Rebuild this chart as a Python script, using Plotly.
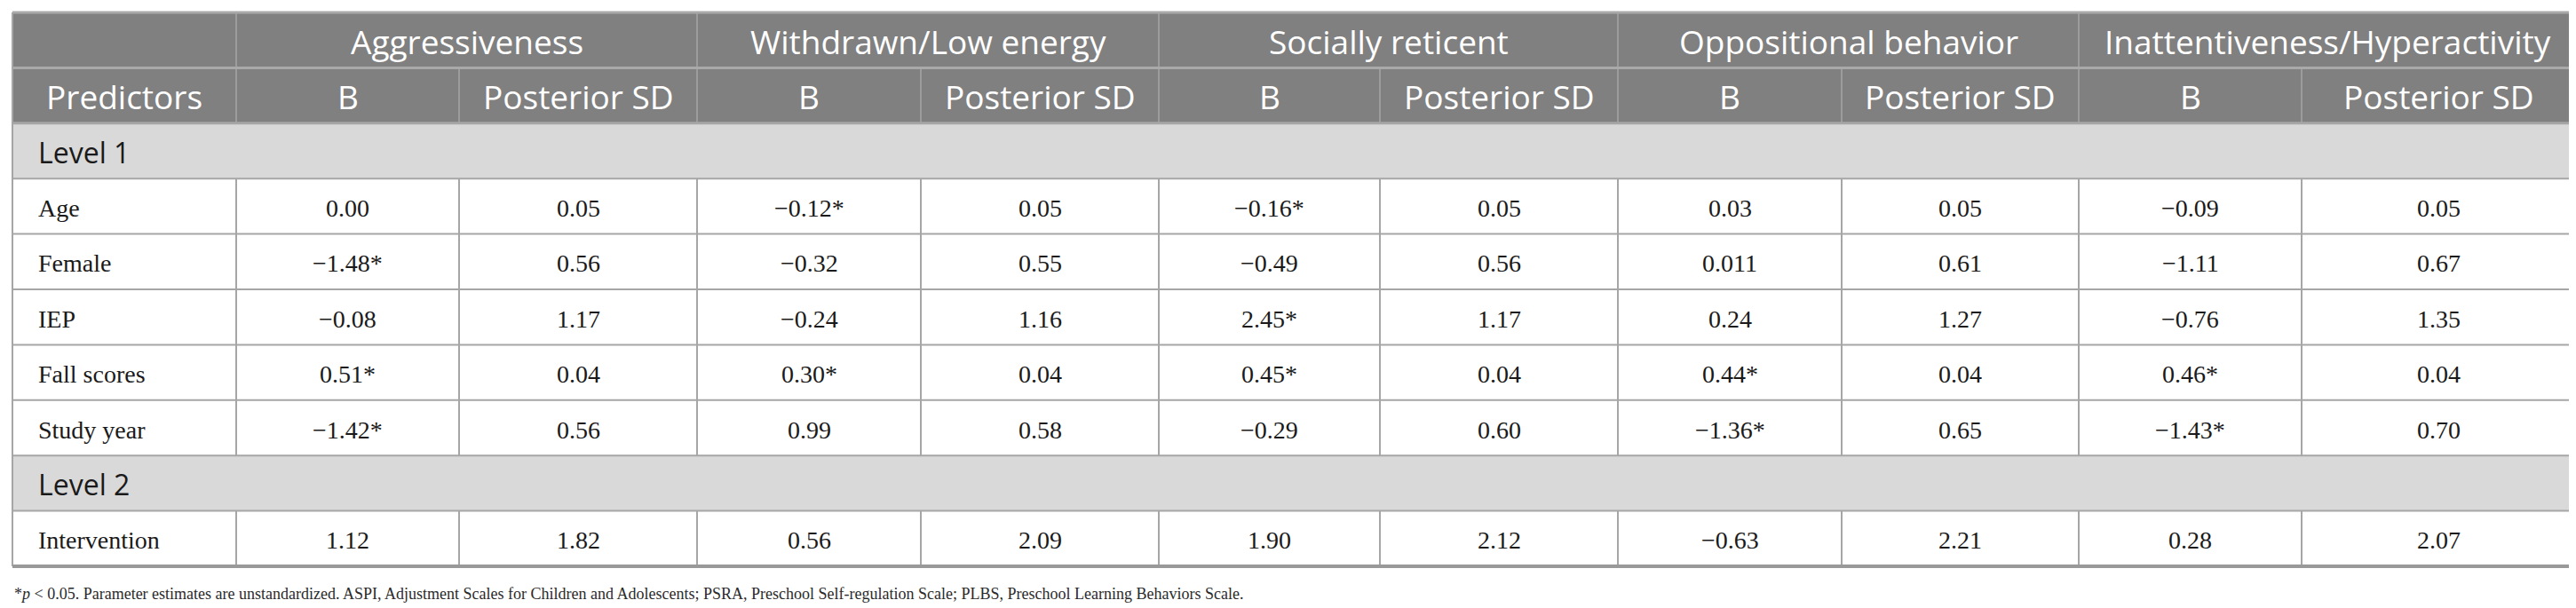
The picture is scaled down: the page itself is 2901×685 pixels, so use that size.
import plotly.graph_objects as go

# table content
groups = ['Aggressiveness', 'Withdrawn/Low energy', 'Socially reticent',
          'Oppositional behavior', 'Inattentiveness/Hyperactivity']
subheads = ['B', 'Posterior SD']
level1_predictors = ['Age', 'Female', 'IEP', 'Fall scores', 'Study year']
level2_predictors = ['Intervention']

aggr_b = ['0.00', '−1.48*', '−0.08', '0.51*', '−1.42*', '1.12']
aggr_sd = ['0.05', '0.56', '1.17', '0.04', '0.56', '1.82']
withdrawn_b = ['−0.12*', '−0.32', '−0.24', '0.30*', '0.99', '0.56']
withdrawn_sd = ['0.05', '0.55', '1.16', '0.04', '0.58', '2.09']
reticent_b = ['−0.16*', '−0.49', '2.45*', '0.45*', '−0.29', '1.90']
reticent_sd = ['0.05', '0.56', '1.17', '0.04', '0.60', '2.12']
opp_b = ['0.03', '0.011', '0.24', '0.44*', '−1.36*', '−0.63']
opp_sd = ['0.05', '0.61', '1.27', '0.04', '0.65', '2.21']
inatt_b = ['−0.09', '−1.11', '−0.76', '0.46*', '−1.43*', '0.28']
inatt_sd = ['0.05', '0.67', '1.35', '0.04', '0.70', '2.07']

footnote = ('*<i>p</i> &lt; 0.05. Parameter estimates are unstandardized. ASPI, Adjustment Scales for '
            'Children and Adolescents; PSRA, Preschool Self-regulation Scale; PLBS, Preschool '
            'Learning Behaviors Scale.')

# layout geometry (pixel space of the page)
W, H = 2901, 685
col_edges = [6, 258, 509, 777, 1029, 1297, 1546, 1814, 2066, 2333, 2584, 2893]
row_h = 62.4
top = 6

HEAD_BG = '#808080'
LEVEL_BG = '#d9d9d9'
LINE = '#a6a6a6'
HEAD_LINE = '#9c9c9c'
SANS = 'Open Sans'
SERIF = 'Liberation Serif'

value_cols = [aggr_b, aggr_sd, withdrawn_b, withdrawn_sd, reticent_b, reticent_sd,
              opp_b, opp_sd, inatt_b, inatt_sd]

# row list: (kind, label, data index)
rows = [('head1', None, None), ('head2', None, None), ('level', 'Level 1', None)]
for i, p in enumerate(level1_predictors):
    rows.append(('data', p, i))
rows.append(('level', 'Level 2', None))
for i, p in enumerate(level2_predictors):
    rows.append(('data', p, len(level1_predictors) + i))

row_y = [top + row_h * i for i in range(len(rows) + 1)]
x0, x1 = col_edges[0], col_edges[-1]

shapes = []
annotations = []


def rect(xa, xb, ya, yb, fill):
    shapes.append(dict(type='rect', xref='x', yref='y', x0=xa, x1=xb, y0=ya, y1=yb,
                       fillcolor=fill, line=dict(width=0), layer='below'))


def line(xa, ya, xb, yb, color=LINE, width=2):
    shapes.append(dict(type='line', xref='x', yref='y', x0=xa, y0=ya, x1=xb, y1=yb,
                       line=dict(color=color, width=width)))


def text(x, y, s, size, color, family, anchor='center'):
    annotations.append(dict(x=x, y=y, xref='x', yref='y', text=s, showarrow=False,
                            xanchor=anchor, yanchor='middle',
                            font=dict(size=size, color=color, family=family)))


for r, (kind, label, idx) in enumerate(rows):
    ya, yb = row_y[r], row_y[r + 1]
    ym = (ya + yb) / 2
    if kind in ('head1', 'head2'):
        rect(x0, x1, ya, yb, HEAD_BG)
    elif kind == 'level':
        rect(x0, x1, ya, yb, LEVEL_BG)
    if kind == 'head1':
        for g, name in enumerate(groups):
            xa, xb = col_edges[1 + 2 * g], col_edges[3 + 2 * g]
            text((xa + xb) / 2, ym + 1, name, 37, 'white', SANS)
    elif kind == 'head2':
        text((col_edges[0] + col_edges[1]) / 2, ym + 1, 'Predictors', 37, 'white', SANS)
        for c in range(len(value_cols)):
            xa, xb = col_edges[c + 1], col_edges[c + 2]
            text((xa + xb) / 2, ym + 1, subheads[c % 2], 37, 'white', SANS)
    elif kind == 'level':
        text(33, ym + 1, label, 32, '#1a1a1a', SANS, 'left')
    else:
        text(33, ym + 2, label, 28, '#1a1a1a', SERIF, 'left')
        for c, col in enumerate(value_cols):
            xa, xb = col_edges[c + 1], col_edges[c + 2]
            text((xa + xb) / 2, ym + 2, col[idx], 28, '#1a1a1a', SERIF)

# grid lines
for r, (kind, label, idx) in enumerate(rows):
    ya, yb = row_y[r], row_y[r + 1]
    if kind == 'head1':
        for e in [col_edges[1]] + [col_edges[3 + 2 * g] for g in range(len(groups) - 1)]:
            line(e, ya, e, yb, HEAD_LINE, 2)
    elif kind == 'head2':
        for e in col_edges[1:-1]:
            line(e, ya, e, yb, HEAD_LINE, 2)
    elif kind == 'data':
        for e in col_edges[1:-1]:
            line(e, ya, e, yb, LINE, 2)
for r in range(1, len(rows)):
    color = '#a9a9a9' if r == 1 else LINE
    line(x0, row_y[r], x1, row_y[r], color, 3 if r < 3 else 2)
# outer border
line(x0, row_y[0], x1, row_y[0], '#a9a9a9', 3)
line(x0, row_y[0], x0, row_y[-1], LINE, 2)
line(x1, row_y[0], x1, row_y[-1], LINE, 2)
line(x0, row_y[-1], x1, row_y[-1], '#999999', 4)

text(x0, 661, footnote, 18, '#2b2b2b', SERIF, 'left')

fig = go.Figure()
fig.update_layout(
    width=W, height=H,
    margin=dict(l=0, r=0, t=0, b=0),
    paper_bgcolor='white', plot_bgcolor='white',
    xaxis=dict(range=[0, W], visible=False, fixedrange=True),
    yaxis=dict(range=[H, 0], visible=False, fixedrange=True),
    shapes=shapes, annotations=annotations,
    showlegend=False,
)
fig.write_html('out.html')
